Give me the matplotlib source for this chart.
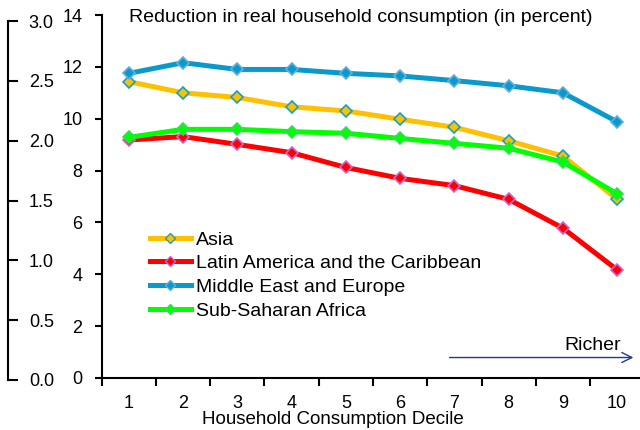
import matplotlib
matplotlib.use("Agg")
from matplotlib import pyplot as plt
from matplotlib.lines import Line2D

plt.rcParams['font.family'] = ['Liberation Sans', 'DejaVu Sans']

# deciles and reduction in consumption (percent)
deciles = [1, 2, 3, 4, 5, 6, 7, 8, 9, 10]
asia = [11.43, 11.0, 10.82, 10.46, 10.3, 9.98, 9.67, 9.15, 8.56, 6.89]
latin = [9.18, 9.31, 9.01, 8.69, 8.12, 7.7, 7.42, 6.89, 5.78, 4.17]
mideast = [11.75, 12.16, 11.9, 11.9, 11.75, 11.65, 11.47, 11.27, 11.0, 9.88]
africa = [9.28, 9.59, 9.59, 9.5, 9.44, 9.24, 9.05, 8.86, 8.33, 7.1]

names = ["Asia", "Latin America and the Caribbean",
         "Middle East and Europe", "Sub-Saharan Africa"]
left_ticks = [0.0, 0.5, 1.0, 1.5, 2.0, 2.5, 3.0]

W, H = 640, 430
fig = plt.figure(figsize=(6.4, 4.3), dpi=100)

# main axes (0-14 scale)
ax = fig.add_axes([101.7 / W, (H - 378) / H, (644.3 - 101.7) / W, (378 - 15) / H])
ax.set_xlim(0.5, 10.5)
ax.set_ylim(0, 14)
for s in ("top", "right"):
    ax.spines[s].set_visible(False)
for s in ("left", "bottom"):
    ax.spines[s].set_linewidth(1.5)

ax.set_yticks(range(0, 15, 2))
ax.tick_params(axis="y", length=5, width=1.5, pad=9, labelsize=13)
# category axis: ticks between categories, labels centred
ax.set_xticks([d + 0.5 for d in range(0, 11)])
ax.set_xticklabels([])
ax.tick_params(axis="x", which="major", length=6, width=1.5)
ax.set_xticks(deciles, minor=True)
ax.set_xticklabels([str(d) for d in deciles], minor=True)
ax.tick_params(axis="x", which="minor", length=0, pad=12, labelsize=13)

styles = [
    (asia, "#FFC000", "#12A2C4"),
    (latin, "#FF0000", "#CC66CC"),
    (mideast, "#0A99CC", "#5FAEDD"),
    (africa, "#00FF00", "#33DD55"),
]
handles = []
for (vals, col, edge), name in zip(styles, names):
    ax.plot(deciles, vals, color=col, lw=3.6, marker="D", markersize=6.5,
            markerfacecolor=col, markeredgecolor=edge, markeredgewidth=1.2,
            solid_capstyle="butt", clip_on=False)
    handles.append(Line2D([], [], color=col, lw=3.6, marker="D", markersize=5,
                          markerfacecolor=col, markeredgecolor=edge,
                          markeredgewidth=1.0))

fig.legend(handles, names, loc="upper left",
           bbox_to_anchor=(150 / W, 1 - 231 / H), frameon=False,
           fontsize=14, handlelength=2.1, handletextpad=0.25,
           labelspacing=0.31, borderpad=0, borderaxespad=0)

# richer arrow
ax.annotate("", xy=(10.35, 0.79), xytext=(6.86, 0.79),
            arrowprops=dict(arrowstyle="->", color="#1F3A93", lw=1,
                            mutation_scale=18),
            annotation_clip=False)
ax.text(9.54, 1.27, "Richer", ha="center", va="center", fontsize=14)

# outer left axis (0-3 scale)
ax2 = fig.add_axes([8 / W - 0.0001, (H - 380) / H, 0.0001, (380 - 21) / H])
ax2.set_ylim(0, 3)
ax2.set_xticks([])
for s in ("top", "bottom", "left"):
    ax2.spines[s].set_visible(False)
ax2.spines["right"].set_linewidth(1.5)
ax2.patch.set_visible(False)
ax2.yaxis.tick_right()
ax2.set_yticks(left_ticks)
ax2.set_yticklabels(["%.1f" % v for v in left_ticks])
ax2.tick_params(axis="y", length=7, width=1.5, pad=8, labelsize=13)
ax2.set_yticks([0], minor=True)
ax2.tick_params(axis="y", which="minor", direction="in", length=8, width=1.5)

fig.text(361 / W, 1 - 18 / H, "Reduction in real household consumption (in percent)",
         ha="center", va="center", fontsize=14)
fig.text(333 / W, 1 - 419 / H, "Household Consumption Decile",
         ha="center", va="center", fontsize=13.5)

fig.savefig("out.png", dpi=100)
